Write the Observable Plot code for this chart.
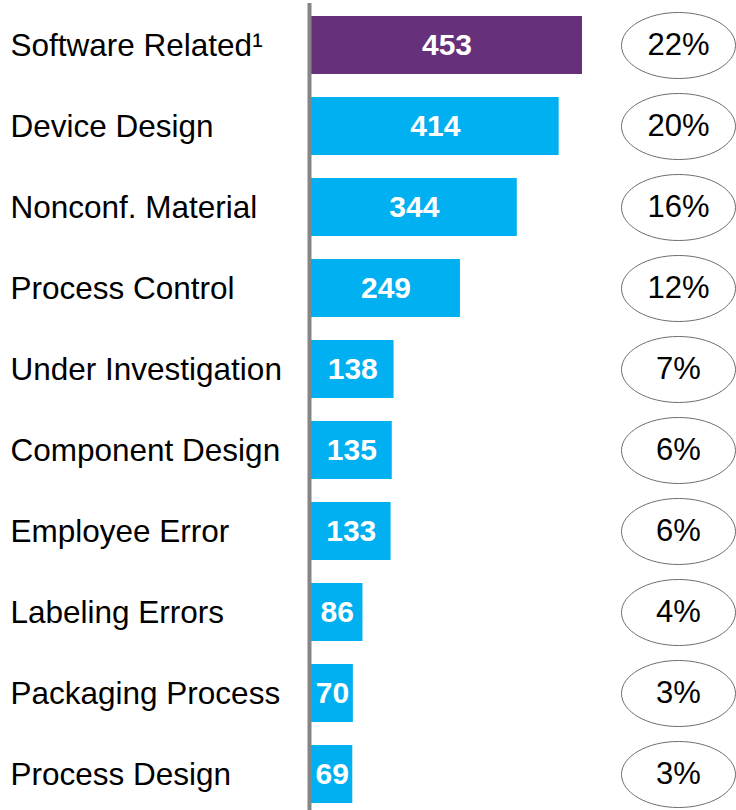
<!DOCTYPE html>
<html>
<head>
<meta charset="utf-8">
<script src="https://cdn.jsdelivr.net/npm/d3@7"></script>
<script src="https://cdn.jsdelivr.net/npm/@observablehq/plot@0.6"></script>
<style>
  html, body { margin: 0; padding: 0; background: #fff; }
  svg { display: block; font-family: "Liberation Sans", Arial, sans-serif; }
</style>
</head>
<body>
<div id="chart"></div>
<script>
const categories = ["Software Related¹", "Device Design", "Nonconf. Material", "Process Control", "Under Investigation", "Component Design", "Employee Error", "Labeling Errors", "Packaging Process", "Process Design"];
const counts = [453, 414, 344, 249, 138, 135, 133, 86, 70, 69];
const shares = ["22%", "20%", "16%", "12%", "7%", "6%", "6%", "4%", "3%", "3%"];
const highlight = [true, false, false, false, false, false, false, false, false, false];

const data = categories.map((c, i) => ({category: c, count: counts[i], share: shares[i], hi: highlight[i]}));

const rx = 57, ry = 33;
const ellipseSymbol = {
  draw(context, size) {
    const r = Math.sqrt(size / Math.PI);
    const a = r * rx / ry, b = r, k = 0.5522848;
    context.moveTo(a, 0);
    context.bezierCurveTo(a, b * k, a * k, b, 0, b);
    context.bezierCurveTo(-a * k, b, -a, b * k, -a, 0);
    context.bezierCurveTo(-a, -b * k, -a * k, -b, 0, -b);
    context.bezierCurveTo(a * k, -b, a, -b * k, a, 0);
    context.closePath();
  }
};

const chart = Plot.plot({
  width: 736,
  height: 810,
  marginTop: 3,
  marginBottom: 0,
  marginLeft: 0,
  marginRight: 0,
  style: {fontFamily: "'Liberation Sans', Arial, sans-serif", background: "#fff"},
  x: {domain: [0, 453], range: [311, 582], axis: null},
  y: {domain: categories, range: [15, 804], paddingInner: 0.286, paddingOuter: 0, axis: null},
  marks: [
    Plot.barX(data, {y: "category", x: "count", fill: d => d.hi ? "#66307A" : "#00B0F0"}),
    Plot.ruleX([0], {stroke: "#858585", strokeWidth: 4, dx: -2}),
    Plot.text(data, {y: "category", text: "category", frameAnchor: "left", textAnchor: "start", dx: 10, fontSize: 31.5, fill: "#000"}),
    Plot.text(data, {y: "category", x: d => d.count / 2, text: d => String(d.count), fill: "#fff", fontWeight: "bold", fontSize: 30}),
    Plot.dot(data, {y: "category", frameAnchor: "right", dx: -58, r: ry, symbol: ellipseSymbol, stroke: "#6e6e6e", strokeWidth: 1, fill: "none"}),
    Plot.text(data, {y: "category", frameAnchor: "right", dx: -58, textAnchor: "middle", text: "share", fontSize: 31, fill: "#000"})
  ]
});
document.getElementById("chart").appendChild(chart);
</script>
</body>
</html>
